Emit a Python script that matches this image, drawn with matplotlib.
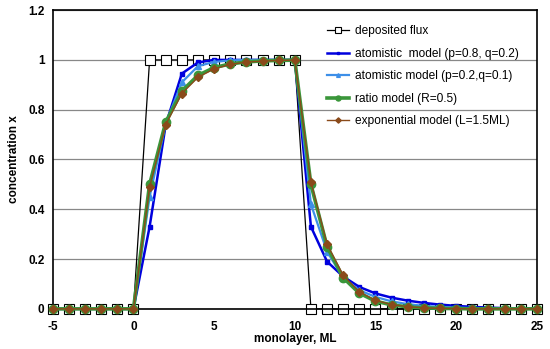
import numpy as np
import matplotlib
matplotlib.use("Agg")
import matplotlib.pyplot as plt

# monolayer index
ml = list(range(-5, 26))

# values
flux = [0] * 6 + [1] * 10 + [0] * 15
atom_08 = [0] * 6 + [0.33, 0.74, 0.945, 0.99, 1.0, 1.0, 1.0, 1.0, 1.0, 1.0,
                     0.33, 0.19, 0.13, 0.088, 0.062, 0.045, 0.033, 0.024, 0.017, 0.012,
                     0.008, 0.005, 0.003, 0.002, 0.001]
atom_02 = [0] * 6 + [0.45, 0.745, 0.91, 0.975, 0.992, 0.998, 1.0, 1.0, 1.0, 1.0,
                     0.42, 0.23, 0.125, 0.075, 0.048, 0.03, 0.019, 0.012, 0.008, 0.005,
                     0.003, 0.002, 0.001, 0.0, 0.0]
ratio = [0] * 6 + [0.5, 0.75, 0.875, 0.938, 0.969, 0.984, 0.992, 0.996, 0.998, 0.999,
                   0.5, 0.25, 0.125, 0.063, 0.031, 0.016, 0.008, 0.004, 0.002, 0.001,
                   0.0, 0.0, 0.0, 0.0, 0.0]
expo = [0] * 6 + [0.49, 0.74, 0.865, 0.93, 0.964, 0.982, 0.991, 0.995, 0.998, 0.999,
                  0.51, 0.26, 0.135, 0.068, 0.034, 0.017, 0.009, 0.004, 0.002, 0.001,
                  0.0, 0.0, 0.0, 0.0, 0.0]

plt.rcParams['font.family'] = ['Liberation Sans', 'DejaVu Sans']
plt.rcParams['axes.unicode_minus'] = False
fig = plt.figure(figsize=(5.5, 3.49), dpi=100)
ax = fig.add_axes([0.096, 0.115, 0.88, 0.856])

ax.plot(ml, flux, color="black", lw=0.9, marker="s", ms=6.5, mfc="white",
        mec="black", mew=0.8, label="deposited flux", zorder=2, clip_on=False)
ax.plot(ml, atom_08, color="#0000dd", lw=1.8, marker="s", ms=3.5,
        label="atomistic  model (p=0.8, q=0.2)", zorder=3, clip_on=False)
ax.plot(ml, atom_02, color="#3d8fe8", lw=1.6, marker="^", ms=4.5,
        label="atomistic model (p=0.2,q=0.1)", zorder=4, clip_on=False)
ax.plot(ml, ratio, color="#3a963a", lw=2.6, marker="o", ms=6,
        label="ratio model (R=0.5)", zorder=5, clip_on=False)
ax.plot(ml, expo, color="#8a4a1a", lw=1.0, marker="D", ms=4.5,
        label="exponential model (L=1.5ML)", zorder=6, clip_on=False)

ax.set_xlim(-5, 25)
ax.set_ylim(0, 1.2)
ax.set_xticks([-5, 0, 5, 10, 15, 20, 25])
ax.set_yticks([0, 0.2, 0.4, 0.6, 0.8, 1.0, 1.2])
ax.set_yticklabels(["0", "0.2", "0.4", "0.6", "0.8", "1", "1.2"])
ax.yaxis.grid(True, color="#888888", lw=0.9)
ax.set_axisbelow(True)
ax.tick_params(axis="x", length=0, labelsize=8.5, pad=9)
ax.tick_params(axis="y", length=0, labelsize=8.5, pad=6)
for lab in ax.get_xticklabels() + ax.get_yticklabels():
    lab.set_fontweight("bold")
for s in ax.spines.values():
    s.set_linewidth(1.2)

ax.set_xlabel("monolayer, ML", fontsize=8.5, fontweight="bold", labelpad=0)
ax.set_ylabel("concentration x", fontsize=8.5, fontweight="bold", labelpad=6)

ax.legend(loc="upper left", bbox_to_anchor=(0.545, 0.985), frameon=False,
          fontsize=8.6, handlelength=1.8, labelspacing=0.88, handletextpad=0.5,
          markerscale=0.6)

plt.savefig("out.png", dpi=100)
